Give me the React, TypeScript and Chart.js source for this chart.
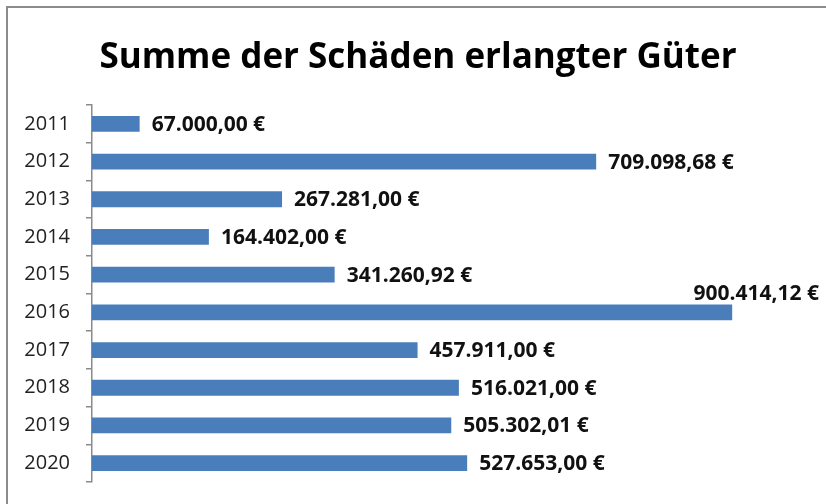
import React, { useEffect, useRef } from "react";
import { Chart, registerables } from "chart.js";

Chart.register(...registerables);

const TITLE = "Summe der Schäden erlangter Güter";
const YEARS = ["2011", "2012", "2013", "2014", "2015", "2016", "2017", "2018", "2019", "2020"];
const VALUES = [67000.0, 709098.68, 267281.0, 164402.0, 341260.92, 900414.12, 457911.0, 516021.0, 505302.01, 527653.0];
const LABELS = [
  "67.000,00 €",
  "709.098,68 €",
  "267.281,00 €",
  "164.402,00 €",
  "341.260,92 €",
  "900.414,12 €",
  "457.911,00 €",
  "516.021,00 €",
  "505.302,01 €",
  "527.653,00 €",
];
const ABOVE_INDEX = 5;

const FONT = "'Open Sans', 'DejaVu Sans', sans-serif";

export default function App() {
  const ref = useRef<HTMLCanvasElement | null>(null);

  useEffect(() => {
    if (!ref.current) return;
    const labelPlugin = {
      id: "labelPlugin",
      afterDatasetsDraw(chart: any) {
        const ctx = chart.ctx;
        const meta = chart.getDatasetMeta(0);
        ctx.save();
        ctx.fillStyle = "#111";
        ctx.font = `bold 21px ${FONT}`;
        meta.data.forEach((bar: any, i: number) => {
          if (i === ABOVE_INDEX) {
            ctx.textAlign = "right";
            ctx.textBaseline = "middle";
            ctx.fillText(LABELS[i], 819, bar.y - 18);
          } else {
            ctx.textAlign = "left";
            ctx.textBaseline = "middle";
            ctx.fillText(LABELS[i], bar.x + 12, bar.y + 1);
          }
        });
        // title
        ctx.font = `bold 35px ${FONT}`;
        ctx.textAlign = "center";
        ctx.textBaseline = "alphabetic";
        ctx.fillStyle = "#000";
        ctx.fillText(TITLE, 418, 68);
        ctx.restore();
      },
    };

    const chart = new Chart(ref.current, {
      type: "bar",
      data: {
        labels: YEARS,
        datasets: [
          {
            data: VALUES,
            backgroundColor: "#4a7ebb",
            borderWidth: 0,
            barPercentage: 0.42,
            categoryPercentage: 1,
          },
        ],
      },
      options: {
        indexAxis: "y",
        animation: false,
        responsive: false,
        maintainAspectRatio: false,
        layout: { padding: { top: 105, right: 23, bottom: 22, left: 0 } },
        plugins: {
          legend: { display: false },
          title: { display: false },
          tooltip: { enabled: false },
        },
        scales: {
          x: { display: false, min: 0, max: 1000000 },
          y: {
            afterFit(scale: any) {
              scale.width = 92;
              scale.paddingTop = 0;
              scale.paddingBottom = 0;
            },
            grid: {
              display: true,
              drawOnChartArea: false,
              drawTicks: true,
              tickLength: 6,
              color: "#8a8a8a",
              lineWidth: 1.5,
              offset: true,
            },
            border: { display: true, color: "#8a8a8a", width: 1.5 },
            ticks: {
              color: "#222",
              padding: 16,
              font: { family: FONT, size: 20 },
            },
          },
        },
      },
      plugins: [labelPlugin],
    });
    return () => chart.destroy();
  }, []);

  return (
    <div
      style={{
        position: "absolute",
        left: 0,
        top: 0,
        width: 826,
        height: 504,
        overflow: "hidden",
        background: "#fff",
      }}
    >
      <canvas ref={ref} width={826} height={504} style={{ position: "absolute", left: 0, top: 0 }} />
      <div
        style={{
          position: "absolute",
          left: 6,
          top: 6,
          width: 860,
          height: 560,
          borderLeft: "2px solid #8c8c8c",
          borderTop: "2px solid #8c8c8c",
          pointerEvents: "none",
        }}
      />
    </div>
  );
}
